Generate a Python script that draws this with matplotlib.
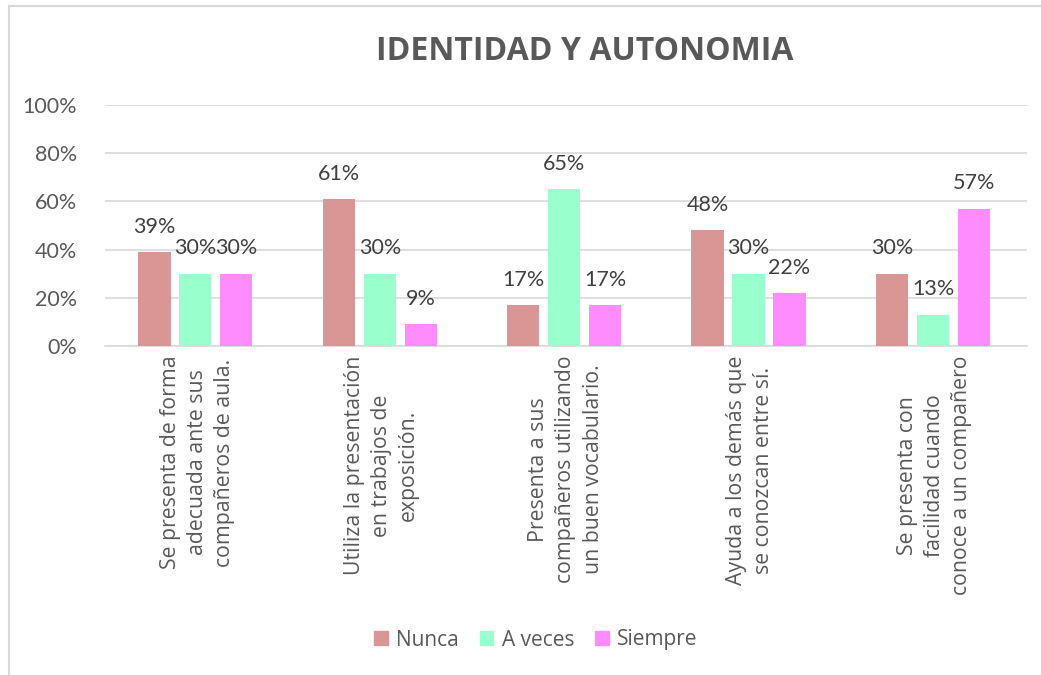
import matplotlib.pyplot as plt
from matplotlib.lines import Line2D
import numpy as np

plt.rcParams['font.family'] = ['Open Sans', 'DejaVu Sans']

categories = ['Se presenta de forma\nadecuada ante sus\ncompañeros de aula.',
              'Utiliza la presentación\nen trabajos de\nexposición.',
              'Presenta a sus\ncompañeros utilizando\nun buen vocabulario.',
              'Ayuda a los demás que\nse conozcan entre sí.',
              'Se presenta con\nfacilidad cuando\nconoce a un compañero']
series = ['Nunca', 'A veces', 'Siempre']
nunca = [0.39, 0.61, 0.17, 0.48, 0.30]
a_veces = [0.30, 0.30, 0.65, 0.30, 0.13]
siempre = [0.30, 0.09, 0.17, 0.22, 0.57]
colors = ['#D99694', '#99FFCC', '#FF8CFF']

fig = plt.figure(figsize=(10.41, 6.75), dpi=100)
ax = fig.add_axes([105 / 1041, 1 - 346 / 675, 922 / 1041, 241 / 675])

x = np.arange(len(categories))
w = 0.175
step = 0.222
for i, (vals, name) in enumerate(zip([nunca, a_veces, siempre], series)):
    pos = x + (i - 1) * step - 0.01
    ax.bar(pos, vals, w, color=colors[i], label=name, zorder=3)
    for p, v in zip(pos, vals):
        ax.annotate(f'{round(v * 100):.0f}%', (p, v), xytext=(0, 11),
                    textcoords='offset points', ha='center', va='bottom',
                    fontsize=15.5, color='#404040', family='Lato')

ax.set_xlim(-0.5, len(categories) - 0.5)
ax.set_ylim(0, 1)
ax.set_yticks(np.arange(0, 1.01, 0.2))
ax.set_yticklabels([f'{int(t * 100)}%' for t in np.arange(0, 1.01, 0.2)],
                   fontsize=15.5, color='#595959', family='Lato')
ax.yaxis.grid(True, color='#D9D9D9', linewidth=1.2, zorder=0)
ax.tick_params(axis='y', length=0, pad=20)
ax.tick_params(axis='x', length=0)
for s in ['top', 'right', 'left']:
    ax.spines[s].set_visible(False)
ax.spines['bottom'].set_color('#D9D9D9')
ax.spines['bottom'].set_linewidth(1.2)

ax.set_xticks(x)
ax.set_xticklabels([])
for xi, lab in zip(x, categories):
    ax.annotate(lab, (xi, 0), xytext=(0, -7), textcoords='offset points',
                rotation=90, ha='center', va='top', multialignment='center',
                fontsize=15.3, color='#595959', linespacing=1.38)

fig.text(585 / 1041, 1 - 51 / 675, 'IDENTIDAD Y AUTONOMIA', ha='center', va='center',
         fontsize=23, fontweight='bold', color='#595959')

handles = [plt.Rectangle((0, 0), 1, 1, color=c) for c in colors]
fig.legend(handles, series, loc='center', bbox_to_anchor=(536 / 1041, 1 - 640 / 675),
           ncol=3, frameon=False, fontsize=15, labelcolor='#595959',
           handlelength=0.65, handleheight=0.65, handletextpad=0.4, columnspacing=1.0)

fig.add_artist(Line2D([9 / 1041, 1], [1 - 6 / 675, 1 - 6 / 675], color='#D9D9D9', lw=1.5))
fig.add_artist(Line2D([9 / 1041, 9 / 1041], [0, 1 - 6 / 675], color='#D9D9D9', lw=1.5))

fig.savefig('out.png', dpi=100)
